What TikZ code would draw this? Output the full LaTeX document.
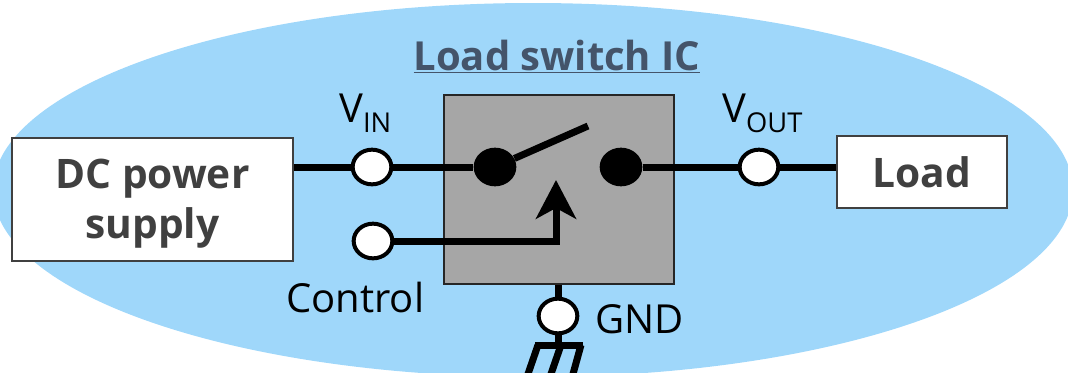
\documentclass[tikz,border=0pt]{standalone}
\usepackage{fontspec}
\setmainfont{Open Sans}
\usetikzlibrary{arrows.meta,shapes.geometric}
\definecolor{skyfill}{HTML}{9FD7FA}
\definecolor{icfill}{HTML}{A6A6A6}
\definecolor{titleink}{HTML}{44546A}
\definecolor{blockink}{HTML}{404040}
\newcommand{\biglabel}{\fontsize{30}{32}\selectfont}
\newcommand{\sublabel}[1]{\raisebox{-7.5pt}{\fontsize{20.5}{22}\selectfont #1}}
\tikzset{
  wire/.style={line width=5.25pt},
  term/.style={draw,line width=3pt,fill=white,ellipse,inner sep=0pt,minimum width=29pt,minimum height=26pt},
  contact/.style={fill=black,ellipse,inner sep=0pt,minimum width=32pt,minimum height=29pt},
  block/.style={draw=blockink,line width=2pt,fill=white,inner sep=0pt,align=center,text=blockink,font=\fontsize{30.5}{37.5}\selectfont\bfseries},
  tag/.style={inner sep=0pt,anchor=base west,font=\biglabel}
}
\begin{document}
\begin{tikzpicture}[x=0.75pt,y=-0.75pt,>={Stealth[length=29pt,width=30pt,inset=8pt]}]
\clip (0,0) rectangle (1068,372);
\useasboundingbox (0,0) rectangle (1068,372);
\node[fill=skyfill,ellipse,inner sep=0pt,minimum width=810pt,minimum height=280.5pt] (zone) at(533,190){};
\node[draw=black!85,line width=1.75pt,fill=icfill,inner sep=0pt,minimum width=172.5pt,minimum height=141.75pt] (ic) at(559,189.5){};
\node[inner sep=0pt,anchor=base,text=titleink,font=\fontsize{30}{32}\selectfont\bfseries] (title) at(557,70){\underline{Load switch IC}};
\node[block,minimum width=210.75pt,minimum height=92.25pt] (dc) at(152.5,199.5){\rule{0pt}{28pt}DC power\\supply};
\node[block,minimum width=127.5pt,minimum height=54pt] (load) at(922,172){Load};
\node[term] (vin) at(372,167){};
\node[term] (ctl) at(373,241){};
\node[term] (vout) at(759,167){};
\node[term] (gnd) at(558,316){};
\node[contact] (swa) at(495,167){};
\node[contact] (swb) at(621,167){};
\coordinate (free) at(588,126);
\coordinate (bend) at(556,241);
\coordinate (tip) at(556,180);
\coordinate (bar) at(558,345);
\coordinate (barl) at(535,345);
\coordinate (barr) at(583,345);
\coordinate (gl) at(528,374);\coordinate (gm) at(551,374);\coordinate (gr) at(573,374);
\coordinate (hl) at(538,345);\coordinate (hm) at(561,345);\coordinate (hr) at(581,345);
\draw[wire] (dc.east|-vin)--(vin);
\draw[wire] (vin)--(swa);
\draw[wire] (swa)--(free);
\draw[wire] (swb)--(vout);
\draw[wire] (vout)--(load.west|-vout);
\draw[wire,->] (ctl)--(bend)--(tip);
\draw[wire] (ic.south-|gnd)--(gnd);
\draw[wire] (gnd)--(bar);
\draw[wire] (barl)--(barr);
\draw[wire] (hl)--(gl);
\draw[wire] (hm)--(gm);
\draw[wire] (hr)--(gr);
\node[tag] (vinl) at(339,122){V\sublabel{IN}};
\node[tag] (voutl) at(722,122){V\sublabel{OUT}};
\node[tag] (ctll) at(286,312){Control};
\node[tag] (gndl) at(595,333){GND};
\end{tikzpicture}
\end{document}
